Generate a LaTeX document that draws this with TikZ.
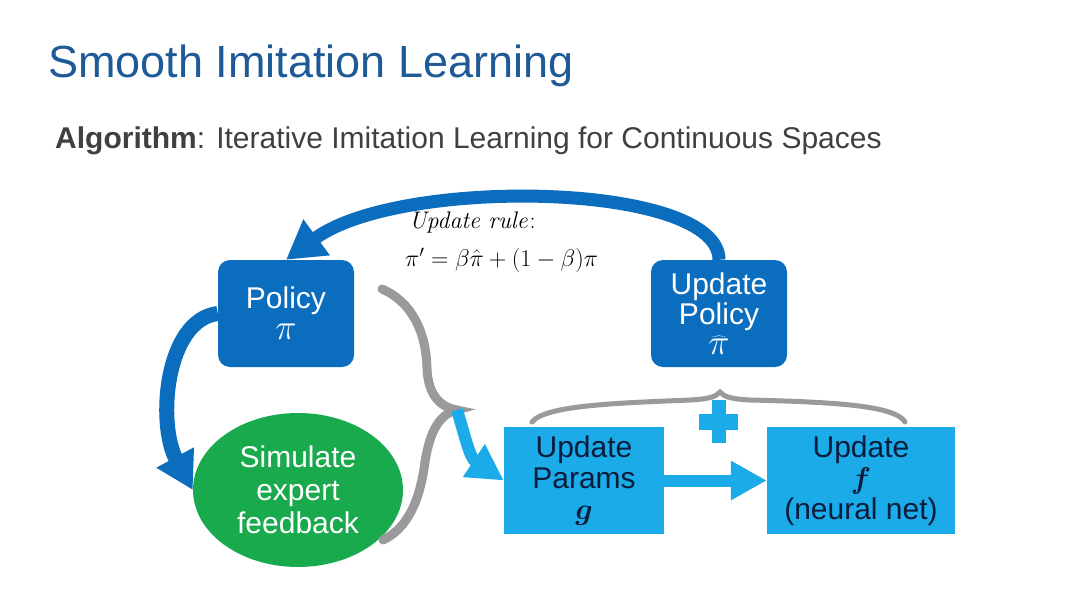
\RequirePackage{fix-cm}
\documentclass[tikz,border=0pt]{standalone}
\usepackage{bm}
\usepackage[no-math]{fontspec}
\setmainfont{Liberation Sans}
\usetikzlibrary{arrows.meta,shapes.geometric}
\definecolor{dblue}{HTML}{0B6DBE}
\definecolor{lblue}{HTML}{1AABE8}
\definecolor{sgreen}{HTML}{1AAA4E}
\definecolor{titleblue}{HTML}{1D5A96}
\definecolor{subgray}{HTML}{404040}
\definecolor{navy}{HTML}{0C1C3C}
\definecolor{bracegray}{HTML}{9A9A9A}
\newcommand{\bigmath}[1]{{\fontsize{36}{30}\selectfont$#1$}}
\begin{document}
\begin{tikzpicture}[x=1pt,y=-1pt,
  boxtext/.style={font=\fontsize{30}{31}\selectfont, align=center, inner sep=0pt},
  darkbox/.style={boxtext, fill=dblue, text=white, rounded corners=12pt, minimum width=136pt, minimum height=107pt},
  lightbox/.style={boxtext, fill=lblue, text=navy, minimum height=107pt},
  simnode/.style={boxtext, ellipse, fill=sgreen, text=white, minimum width=210pt, minimum height=154pt, font=\fontsize{30}{33}\selectfont},
  bigarrow/.style={draw=dblue, line width=13pt, -{Triangle[length=38pt,width=42pt]}},
  sidearrow/.style={draw=dblue, line width=15pt, -{Triangle[length=37pt,width=40pt]}},
  lightarrow/.style={draw=lblue, line width=12pt, -{Triangle[length=36pt,width=37pt]}},
  bracebig/.style={draw=bracegray, line width=9pt, line cap=round, line join=miter},
  bracesmall/.style={draw=bracegray, line width=5pt, line cap=round},
  titletext/.style={anchor=base west, inner sep=0pt, text=titleblue, font=\fontsize{45}{50}\selectfont},
  subtext/.style={anchor=base west, inner sep=0pt, text=subgray, font=\fontsize{30}{34}\selectfont},
  ruletext/.style={anchor=base west, inner sep=0pt, font=\fontsize{24}{26}\selectfont}
]
\useasboundingbox (0,0) rectangle (1080,608);
\fill[white] (0,0) rectangle (1080,608);

\node[titletext] (title) at (48,77) {Smooth Imitation Learning};
\node[subtext] (sub) at (55,148) {\textbf{Algorithm}: Iterative Imitation Learning for Continuous Spaces};

\node[ruletext] (rulelbl) at (409,228) {$\mathit{Update\ rule{:}}$};
\node[ruletext] (rule) at (405,266) {$\pi' = \beta\hat{\pi} + (1-\beta)\pi$};

% nodes
\node[darkbox] (pol) at (286,313.5) {Policy\\\bigmath{\pi}};
\node[darkbox, font=\fontsize{30}{30}\selectfont] (uppol) at (719,313.5) {Update\\Policy\\\bigmath{\widehat{\pi}}};
\node[simnode] (sim) at (298,490) {Simulate\\expert\\feedback};
\node[lightbox, minimum width=160pt] (par) at (584,480.5) {Update\\Params\\$\bm{g}$};
\node[lightbox, minimum width=188pt] (upf) at (861,480.5) {Update\\$\bm{f}$\\(neural net)};

% braces
\coordinate (bracetip) at (457,410);
\draw[bracebig] (382,289) .. controls (412,302) and (426,332) .. (427,368)
   .. controls (428,395) and (440,407) .. (bracetip)
   .. controls (440,414) and (430,430) .. (425,462)
   .. controls (420,500) and (408,528) .. (383,540);
\draw[bracesmall] (532,422) .. controls (545,405) and (620,403) .. (690,400)
   .. controls (708,399) and (716,397) .. (720,392)
   .. controls (724,397) and (732,399) .. (750,400)
   .. controls (830,402) and (895,405) .. (905,422);

% plus sign
\fill[lblue] (699,413.5) rectangle (738,429.5);
\fill[lblue] (712,400) rectangle (726,443);

% arrows
\draw[bigarrow] (uppol.north) .. controls (719,182) and (400,176) .. (pol.north);
\draw[sidearrow] (pol.west) .. controls (165,320) and (157,424) .. (sim.west);
\draw[lightarrow] (bracetip) .. controls (466,440) and (470,458) .. (par.west);
\draw[lightarrow] (par.east) -- (upf.west);
\end{tikzpicture}
\end{document}
